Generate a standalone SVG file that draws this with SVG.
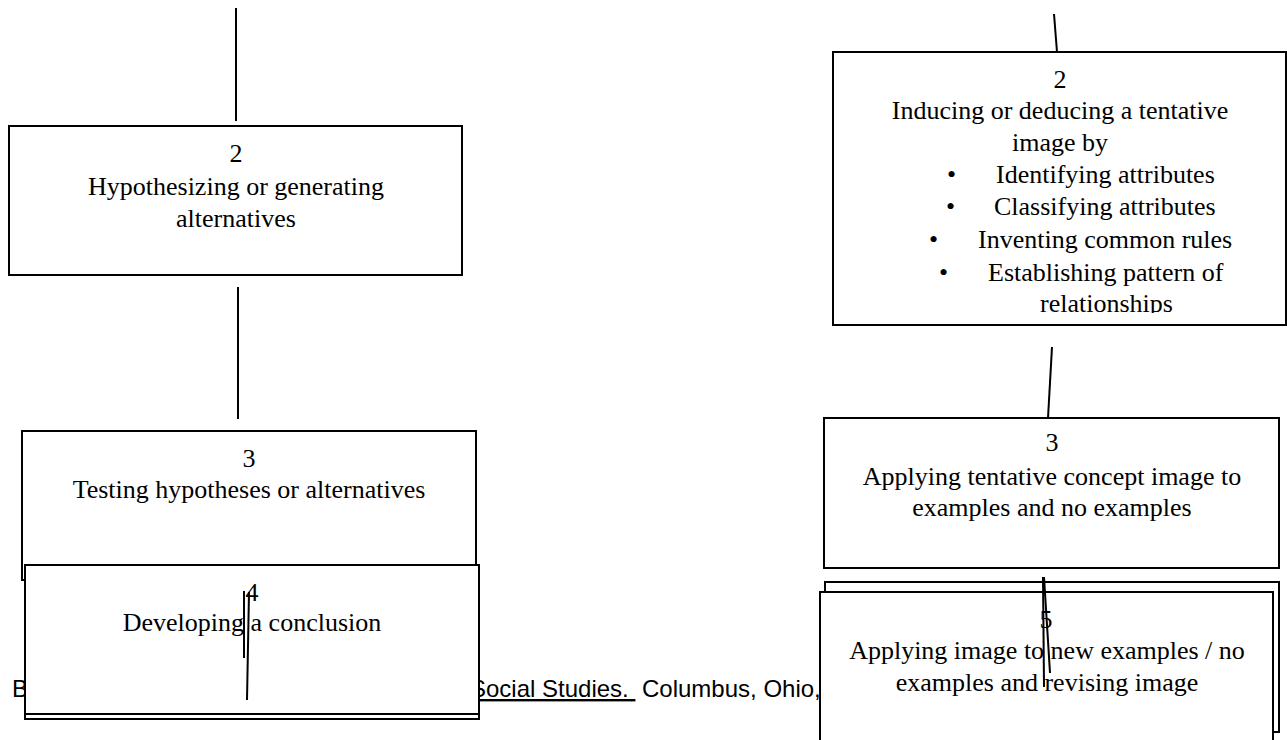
<svg xmlns="http://www.w3.org/2000/svg" width="1287" height="740" viewBox="0 0 1287 740">
<style>
.box{fill:#fff;stroke:#000;stroke-width:2}
.t{font-family:"Liberation Serif","Times New Roman",serif;font-size:26px;fill:#000;text-anchor:middle}
.tl{font-family:"Liberation Serif","Times New Roman",serif;font-size:26px;fill:#000}
.f{font-family:"Liberation Sans",Arial,sans-serif;font-size:24px;fill:#000}
.c{stroke:#000;stroke-width:2;fill:none}
</style>
<defs>
<clipPath id="clipR2"><rect x="833" y="52" width="454" height="261"/></clipPath>
</defs>
<rect width="1287" height="740" fill="#fff"/>
<g id="footer">
<text class="f" x="12" y="697">B</text>
<text class="f" x="470" y="697" text-decoration="underline" xml:space="preserve">Social Studies. </text>
<text class="f" x="642" y="697">Columbus, Ohio,</text>
</g>
<g id="connectors-top">
<line class="c" x1="236" y1="8" x2="236" y2="121"/>
<line class="c" x1="238" y1="287" x2="238" y2="419"/>
<line class="c" x1="1054" y1="14" x2="1057" y2="52"/>
<line class="c" x1="1052" y1="347" x2="1048" y2="418"/>
</g>
<g id="node-L2">
<rect class="box" x="9" y="126" width="453" height="149"/>
<text class="t" x="236" y="162">2</text>
<text class="t" x="236" y="195">Hypothesizing or generating</text>
<text class="t" x="236" y="227">alternatives</text>
</g>
<g id="node-L3">
<rect class="box" x="22" y="431" width="454" height="149"/>
<text class="t" x="249" y="467">3</text>
<text class="t" x="249" y="498">Testing hypotheses or alternatives</text>
</g>
<g id="node-L4">
<rect class="box" x="25" y="569" width="454" height="150"/>
<rect class="box" x="25" y="565" width="454" height="149"/>
<text class="t" x="252" y="601">4</text>
<text class="t" x="252" y="631">Developing a conclusion</text>
</g>
<g id="node-R2">
<rect class="box" x="833" y="52" width="453" height="273"/>
<g clip-path="url(#clipR2)">
<text class="t" x="1060" y="88">2</text>
<text class="t" x="1060" y="119">Inducing or deducing a tentative</text>
<text class="t" x="1060" y="151">image by</text>
<text class="tl" x="947" y="183">•</text>
<text class="tl" x="996" y="183">Identifying attributes</text>
<text class="tl" x="946" y="215">•</text>
<text class="tl" x="994" y="215">Classifying attributes</text>
<text class="tl" x="929" y="248">•</text>
<text class="tl" x="978" y="248">Inventing common rules</text>
<text class="tl" x="939" y="281">•</text>
<text class="tl" x="988" y="281">Establishing pattern of</text>
<text class="tl" x="1040" y="312">relationships</text>
</g>
</g>
<g id="node-R3">
<rect class="box" x="824" y="418" width="455" height="150"/>
<text class="t" x="1052" y="451">3</text>
<text class="t" x="1052" y="485">Applying tentative concept image to</text>
<text class="t" x="1052" y="516">examples and no examples</text>
</g>
<g id="node-R5">
<rect class="box" x="825" y="582" width="454" height="150"/>
<rect class="box" x="820" y="592" width="453" height="160"/>
<text class="t" x="1046" y="628">5</text>
<text class="t" x="1047" y="659">Applying image to new examples / no</text>
<text class="t" x="1047" y="691">examples and revising image</text>
</g>
<g id="connectors-overlay">
<line class="c" x1="244" y1="591" x2="244" y2="658"/>
<line class="c" x1="249" y1="592" x2="247" y2="700"/>
<line class="c" x1="1043" y1="577" x2="1044" y2="687"/>
<line class="c" x1="1044" y1="577" x2="1050" y2="673"/>
</g>
</svg>
